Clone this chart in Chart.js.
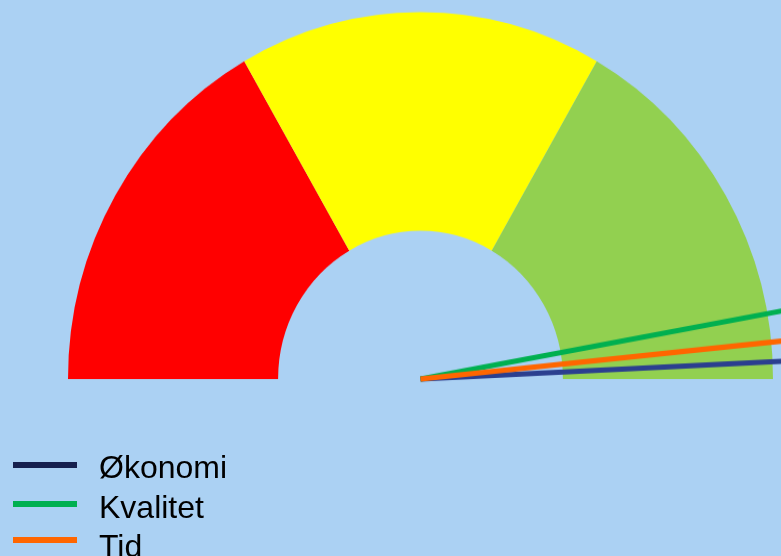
<!DOCTYPE html>
<html>
<head>
<meta charset="utf-8">
<script src="https://cdn.jsdelivr.net/npm/chart.js@4/dist/chart.umd.min.js"></script>
<style>
  html, body { margin: 0; padding: 0; background: #ABD1F3; overflow: hidden; }
  #wrap { position: relative; width: 781px; height: 556px; background: #ABD1F3; overflow: hidden; }
  #c { position: absolute; left: 0; top: 0; transform-origin: 0 379px; transform: scaleY(1.041); }
  .leg { position: absolute; left: 0; top: 0; font-family: "Liberation Sans", Arial, sans-serif; font-size: 32px; color: #000; white-space: nowrap; }
  .leg .sw { position: absolute; left: 13px; width: 64px; height: 6px; }
  .leg .tx { position: absolute; left: 99px; line-height: 1; }
</style>
</head>
<body>
<div id="wrap">
  <canvas id="c" width="781" height="556"></canvas>
  <div id="legend"></div>
</div>
<script>
// ---- data ----
const zoneLabels = ['Rød', 'Gul', 'Grønn'];
const zoneValues = [1, 1, 1];
const zoneColors = ['#FF0000', '#FFFF00', '#92D050'];

const needleLabels = ['Økonomi', 'Kvalitet', 'Tid'];
const needleValues = [98.5, 94.3, 96.8];          // on a 0–100 gauge scale
const needleColors = ['#2B3F8F', '#00B050', '#FF6600'];
const legendColors = ['#16204E', '#00B050', '#FF6600'];
const gaugeMax = 100;

// ---- needle plugin (uses the doughnut's own geometry) ----
const needlePlugin = {
  id: 'needles',
  afterDatasetsDraw(chart) {
    const arc = chart.getDatasetMeta(0).data[0];
    if (!arc) return;
    const cx = arc.x, cy = arc.y, R = arc.outerRadius;
    const ctx = chart.ctx;
    ctx.save();
    needleValues.forEach((v, i) => {
      const a = Math.PI + (v / gaugeMax) * Math.PI;
      const L = R * 1.3;
      ctx.beginPath();
      ctx.moveTo(cx, cy);
      ctx.lineTo(cx + L * Math.cos(a), cy + L * Math.sin(a));
      ctx.lineWidth = 5;
      ctx.lineCap = 'butt';
      ctx.strokeStyle = needleColors[i];
      ctx.stroke();
    });
    ctx.restore();
  }
};

new Chart(document.getElementById('c'), {
  type: 'doughnut',
  data: {
    labels: zoneLabels,
    datasets: [{
      data: zoneValues,
      backgroundColor: zoneColors,
      borderWidth: 0
    }]
  },
  options: {
    responsive: false,
    animation: false,
    rotation: -90,
    circumference: 180,
    cutout: '40.4%',
    layout: { padding: { left: 68, right: 8, top: 26.5, bottom: 177 } },
    plugins: { legend: { display: false }, tooltip: { enabled: false } }
  },
  plugins: [needlePlugin]
});

// ---- legend (real text) ----
const legendTops = [451, 490.5, 530];
const swatchTops = [462, 501, 537];
const leg = document.getElementById('legend');
needleLabels.forEach((lab, i) => {
  const item = document.createElement('div');
  item.className = 'leg';
  item.innerHTML = '<div class="sw" style="top:' + swatchTops[i] + 'px;background:' + legendColors[i] + '"></div>' +
                   '<div class="tx" style="top:' + legendTops[i] + 'px">' + lab + '</div>';
  leg.appendChild(item);
});
</script>
</body>
</html>
